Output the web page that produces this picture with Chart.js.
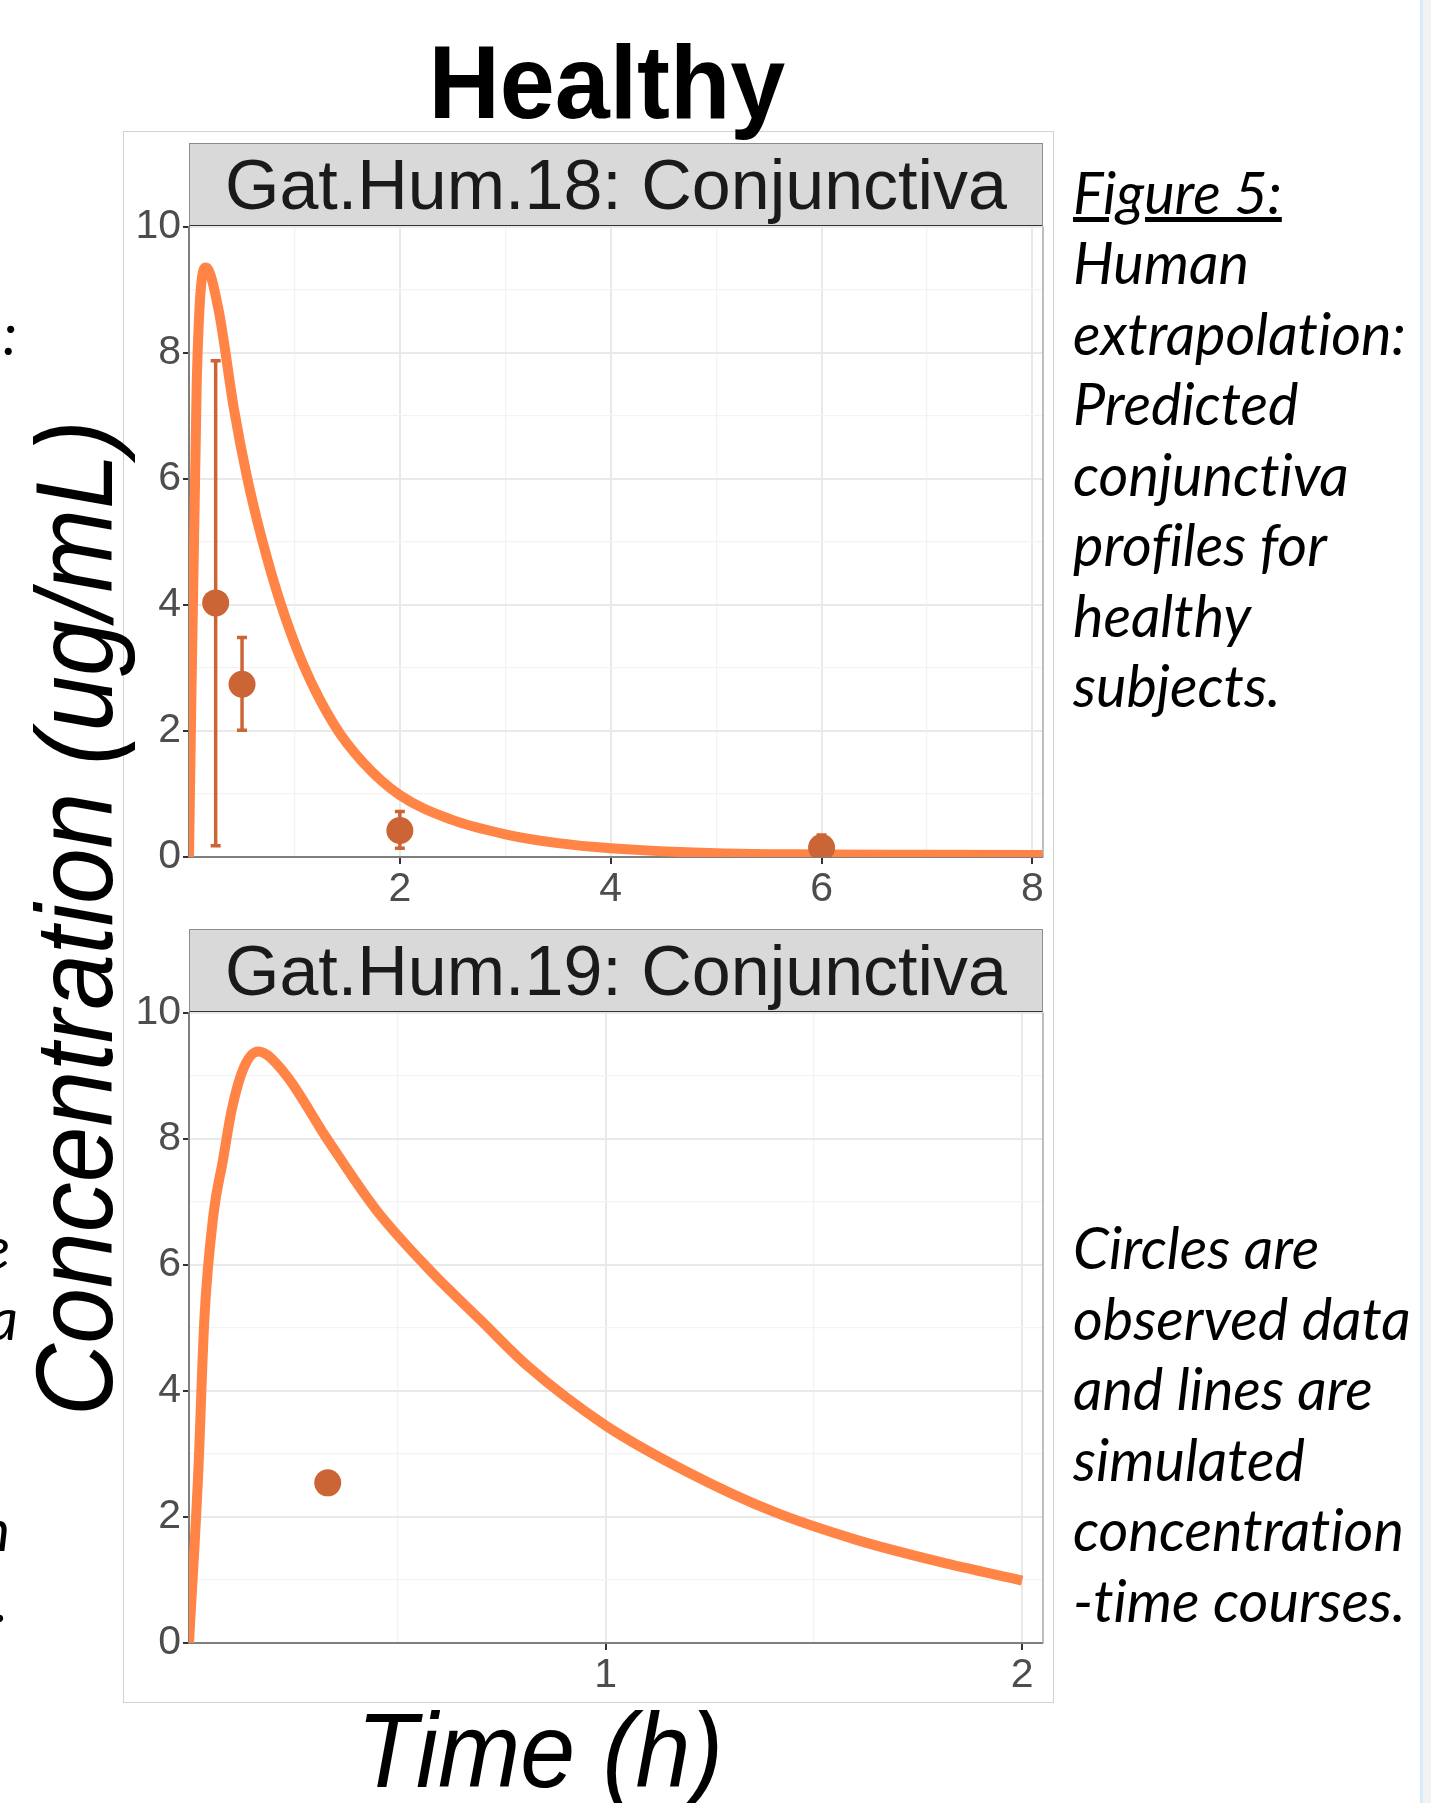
<!DOCTYPE html>
<html>
<head>
<meta charset="utf-8">
<title>Healthy</title>
<script src="https://cdn.jsdelivr.net/npm/chart.js@4.4.1/dist/chart.umd.min.js"></script>
<style>
  body { margin: 0; width: 1431px; height: 1803px; position: relative; overflow: hidden; background: #fff;
         font-family: 'Liberation Sans', Arial, sans-serif; }
  .abs { position: absolute; }
  #frame { left: 123px; top: 131px; width: 931px; height: 1572px; border: 1.5px solid #d2d2d2; box-sizing: border-box; }
  #healthy { left: 0; top: 29.5px; width: 1213px; text-align: center; font-size: 104px; line-height: 104px; font-weight: bold; color: #000; white-space: nowrap; }
  #healthy span { display: inline-block; transform: scaleX(0.95); }
  .strip { left: 189px; width: 854px; height: 83.5px; box-sizing: border-box; background: #d9d9d9;
           border: 1.5px solid #8c8c8c; border-bottom: 2px solid #333; font-size: 70px; line-height: 82px;
           text-align: center; color: #1a1a1a; white-space: nowrap; }
  #xtitle { left: 0; top: 1698px; width: 1079px; text-align: center; font-size: 105px; line-height: 105px; font-style: italic; color: #000; white-space: nowrap; }
  #xtitle span { display: inline-block; transform: scaleX(0.94); }
  #ytitle { left: -526px; top: 862.5px; width: 1200px; height: 110px; text-align: center; font-size: 110px; line-height: 110px;
            font-style: italic; color: #000; white-space: nowrap; transform: rotate(-90deg) scaleX(0.91); transform-origin: 50% 50%; }
  .cap { left: 1073px; font-family: Lato, 'Open Sans', sans-serif; font-style: italic; font-size: 57.5px; line-height: 70.5px;
         color: #000; white-space: nowrap; font-variant-ligatures: none; }
  .frag { width: 60px; text-align: right; font-family: Lato, 'Open Sans', sans-serif; font-style: italic; font-size: 57.5px; line-height: 70.5px; color: #000; }
  canvas.abs { left: 100px; }
</style>
</head>
<body>
<div id="frame" class="abs"></div>
<div id="healthy" class="abs"><span>Healthy</span></div>

<div class="strip abs" style="top:143px">Gat.Hum.18: Conjunctiva</div>
<canvas id="chart18" class="abs" width="960" height="741" style="top:186px"></canvas>

<div class="strip abs" style="top:929px">Gat.Hum.19: Conjunctiva</div>
<canvas id="chart19" class="abs" width="960" height="741" style="top:972px"></canvas>

<div id="ytitle" class="abs">Concentration (ug/mL)</div>
<div id="xtitle" class="abs"><span>Time (h)</span></div>

<div class="cap abs" style="top:156.5px"><u>Figure 5:</u><br>Human<br>extrapolation:<br>Predicted<br>conjunctiva<br>profiles for<br>healthy<br>subjects.</div>
<div class="cap abs" style="top:1212px">Circles are<br>observed data<br>and lines are<br>simulated<br>concentration<br>-time courses.</div>

<div class="frag abs" style="left:-43px; top:297.5px">:</div>
<div class="frag abs" style="left:-50px; top:1212px">e</div>
<div class="frag abs" style="left:-42px; top:1282.5px">a</div>
<div class="frag abs" style="left:-50px; top:1494px">n</div>
<div class="frag abs" style="left:-52px; top:1564.5px">.</div>

<div class="abs" style="left:1420px; top:0; width:3px; height:1803px; background:#d5eef9"></div>
<div class="abs" style="left:1423px; top:0; width:8px; height:1803px; background:#f2f2f4"></div>

<script>
// ---- Gat.Hum.18 ----
const simTime18 = [0, 0.073, 0.161, 0.278, 0.427, 0.547, 0.69, 0.863, 1.084, 1.376, 1.65, 2.0, 2.476, 3.0, 3.5, 4.0, 5.0, 6.0, 7.0, 8.1];
const simConc18 = [0, 7.5, 9.35, 8.7, 7.1, 6.05, 5.05, 4.05, 3.05, 2.1, 1.5, 0.98, 0.6, 0.36, 0.22, 0.14, 0.06, 0.04, 0.035, 0.03];
const obsTime18 = [0.253, 0.503, 2.0, 6.0];
const obsConc18 = [4.03, 2.74, 0.42, 0.15];
const obsLow18  = [0.18, 2.01, 0.14, 0.0];
const obsHigh18 = [7.87, 3.48, 0.72, 0.35];
const xMajor18 = [2, 4, 6, 8];
const xMinor18 = [1, 3, 5, 7];

// ---- Gat.Hum.19 ----
const simTime19 = [0, 0.022, 0.037, 0.059, 0.081, 0.103, 0.132, 0.166, 0.228, 0.331, 0.448, 0.58, 0.7, 0.815, 1.0, 1.2, 1.4, 1.6, 1.8, 2.0];
const simConc19 = [0, 2.67, 5.15, 6.81, 7.64, 8.47, 9.13, 9.38, 9.05, 8.0, 6.88, 5.9, 5.12, 4.38, 3.45, 2.7, 2.09, 1.64, 1.29, 0.99];
const obsTime19 = [0.333];
const obsConc19 = [2.54];
const xMajor19 = [1, 2];
const xMinor19 = [0.5, 1.5];

// shared y axis
const yMajor = [0, 2, 4, 6, 8, 10];
const yMinor = [1, 3, 5, 7, 9];

const lineColor = '#ff8446';
const pointColor = '#cc6535';

Chart.defaults.font.family = "'Liberation Sans', Arial, sans-serif";

// error bars drawn through the chart scales
const errorBars = {
    id: 'errorBars',
    beforeDatasetsDraw(chart, args, opts) {
        if (!opts.x || !opts.x.length) return;
        const { ctx, chartArea, scales } = chart;
        ctx.save();
        ctx.beginPath();
        ctx.rect(chartArea.left, chartArea.top, chartArea.width, chartArea.height);
        ctx.clip();
        ctx.strokeStyle = opts.color;
        ctx.lineWidth = opts.width;
        opts.x.forEach((t, i) => {
            const px = scales.x.getPixelForValue(t);
            const top = scales.y.getPixelForValue(opts.high[i]);
            const bot = scales.y.getPixelForValue(opts.low[i]);
            ctx.beginPath();
            ctx.moveTo(px, top); ctx.lineTo(px, bot);
            ctx.moveTo(px - opts.cap, top); ctx.lineTo(px + opts.cap, top);
            ctx.moveTo(px - opts.cap, bot); ctx.lineTo(px + opts.cap, bot);
            ctx.stroke();
        });
        ctx.restore();
    }
};

// thin right-hand panel border
const panelBorder = {
    id: 'panelBorder',
    afterDatasetsDraw(chart) {
        const { ctx, chartArea: a } = chart;
        ctx.save();
        ctx.strokeStyle = '#a8a8a8';
        ctx.lineWidth = 1.5;
        ctx.beginPath();
        ctx.moveTo(a.right, a.top);
        ctx.lineTo(a.right, a.bottom);
        ctx.stroke();
        ctx.restore();
    }
};

function gridStyle(major, minor) {
    return {
        color: c => major.includes(c.tick.value) ? '#e9e9e9' : (minor.includes(c.tick.value) ? '#f3f3f3' : 'rgba(0,0,0,0)'),
        lineWidth: c => major.includes(c.tick.value) ? 2 : 1.3,
        tickColor: c => major.includes(c.tick.value) ? '#333333' : 'rgba(0,0,0,0)',
        tickLength: 7,
        drawTicks: true
    };
}

function makePanel(id, simT, simC, obsT, obsC, errLow, errHigh, xMax, xMajor, xMinor) {
    const ctx = document.getElementById(id).getContext('2d');
    return new Chart(ctx, {
        type: 'scatter',
        data: {
            datasets: [
                {
                    label: 'Observed',
                    data: obsT.map((t, i) => ({ x: t, y: obsC[i] })),
                    backgroundColor: pointColor,
                    borderWidth: 0,
                    pointRadius: 13.5,
                    pointHoverRadius: 13.5,
                    clip: 0
                },
                {
                    label: 'Simulated',
                    data: simT.map((t, i) => ({ x: t, y: simC[i] })),
                    showLine: true,
                    borderColor: lineColor,
                    borderWidth: 10,
                    borderJoinStyle: 'round',
                    pointRadius: 0,
                    pointHoverRadius: 0,
                    cubicInterpolationMode: 'monotone',
                    clip: 0
                }
            ]
        },
        options: {
            responsive: false,
            animation: false,
            devicePixelRatio: 1,
            events: [],
            layout: { padding: { top: 40.5, right: 17, bottom: 0, left: 0 } },
            plugins: {
                legend: { display: false },
                tooltip: { enabled: false },
                errorBars: { x: obsT, low: errLow, high: errHigh, color: pointColor, width: 3.5, cap: 5 }
            },
            scales: {
                x: {
                    type: 'linear',
                    min: 0,
                    max: xMax,
                    afterBuildTicks: s => { s.ticks = xMajor.concat(xMinor).sort((a, b) => a - b).map(v => ({ value: v })); },
                    afterFit: s => { s.height = 70; },
                    grid: gridStyle(xMajor, xMinor),
                    border: { color: '#7f7f7f', width: 2 },
                    ticks: {
                        autoSkip: false,
                        maxRotation: 0,
                        padding: 1,
                        color: '#4d4d4d',
                        font: { size: 41 },
                        callback: v => xMajor.includes(v) ? String(v) : ''
                    }
                },
                y: {
                    type: 'linear',
                    min: 0,
                    max: 10,
                    afterBuildTicks: s => { s.ticks = yMajor.concat(yMinor).sort((a, b) => a - b).map(v => ({ value: v })); },
                    afterFit: s => { s.width = 89; },
                    grid: Object.assign(gridStyle(yMajor, yMinor), { tickLength: 6 }),
                    border: { color: '#7f7f7f', width: 2 },
                    ticks: {
                        autoSkip: false,
                        padding: 2,
                        color: '#4d4d4d',
                        font: { size: 41 },
                        callback: v => yMajor.includes(v) ? String(v) : ''
                    }
                }
            }
        },
        plugins: [errorBars, panelBorder]
    });
}

makePanel('chart18', simTime18, simConc18, obsTime18, obsConc18, obsLow18, obsHigh18, 8.1, xMajor18, xMinor18);
makePanel('chart19', simTime19, simConc19, obsTime19, obsConc19, [], [], 2.05, xMajor19, xMinor19);
</script>
</body>
</html>
